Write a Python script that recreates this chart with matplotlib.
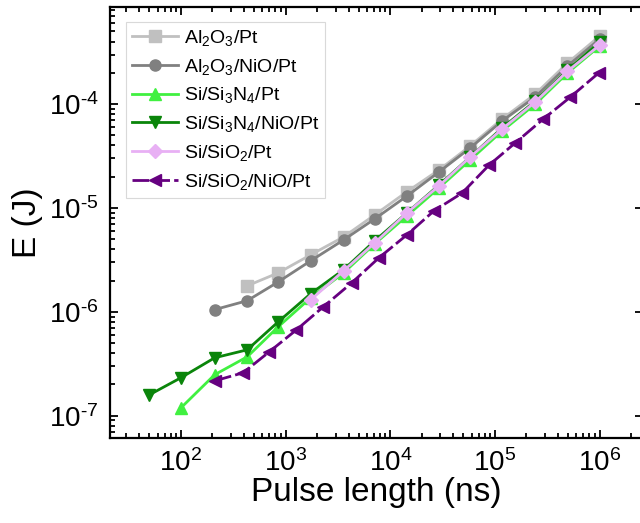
import matplotlib
matplotlib.use("Agg")
import matplotlib.pyplot as plt
from matplotlib.ticker import LogLocator, NullFormatter, FuncFormatter
import numpy as np

plt.rcParams["font.family"] = ["Liberation Sans", "DejaVu Sans"]
plt.rcParams["mathtext.fontset"] = "custom"
plt.rcParams["mathtext.rm"] = "Liberation Sans"
plt.rcParams["mathtext.it"] = "Liberation Sans"
plt.rcParams["mathtext.default"] = "regular"

# ── data (pulse length in ns, energy in J) ──────────────────
x_gray = [210, 430, 850, 1730, 3580, 7100, 14400, 29200, 58000,
          117000, 243000, 493000, 1000000]
x_si = [100] + x_gray
x_si_nio = [50] + x_si
x_sio2 = x_gray[3:]
x_sio2_nio = [212, 393, 698, 1270, 2300, 4280, 7760, 14400, 26100,
              48500, 88100, 156000, 290000, 527000, 980000]

e_al2o3 = [1.78e-6, 2.37e-6, 3.53e-6, 5.26e-6, 8.57e-6, 1.43e-5, 2.32e-5,
           3.95e-5, 7.18e-5, 1.25e-4, 2.48e-4, 4.51e-4]
e_al2o3_nio = [1.05e-6, 1.28e-6, 1.94e-6, 3.09e-6, 4.92e-6, 7.84e-6, 1.30e-5,
               2.22e-5, 3.78e-5, 6.87e-5, 1.17e-4, 2.32e-4, 4.22e-4]
e_si3n4 = [1.19e-7, 2.48e-7, 3.69e-7, 7.18e-7, 1.36e-6, 2.37e-6, 4.51e-6,
           8.38e-6, 1.56e-5, 2.90e-5, 5.50e-5, 1.00e-4, 1.99e-4, 3.61e-4]
e_si3n4_nio = [1.59e-7, 2.32e-7, 3.61e-7, 4.31e-7, 8.01e-7, 1.49e-6, 2.54e-6,
               4.82e-6, 8.95e-6, 1.66e-5, 3.09e-5, 5.88e-5, 1.07e-4, 2.12e-4,
               3.94e-4]
e_sio2 = [1.30e-6, 2.48e-6, 4.61e-6, 8.95e-6, 1.63e-5, 3.09e-5, 5.75e-5,
          1.05e-4, 2.07e-4, 3.69e-4]
e_sio2_nio = [2.17e-7, 2.59e-7, 4.12e-7, 6.71e-7, 1.12e-6, 1.90e-6, 3.30e-6,
              5.50e-6, 9.36e-6, 1.39e-5, 2.59e-5, 4.22e-5, 7.18e-5, 1.17e-4,
              1.99e-4]

series = [
    (x_gray[1:], e_al2o3, r"Al$_2$O$_3$/Pt", "#c0c0c0", "s", "-"),
    (x_gray, e_al2o3_nio, r"Al$_2$O$_3$/NiO/Pt", "#808080", "o", "-"),
    (x_si, e_si3n4, r"Si/Si$_3$N$_4$/Pt", "#40f040", "^", "-"),
    (x_si_nio, e_si3n4_nio, r"Si/Si$_3$N$_4$/NiO/Pt", "#0a850a", "v", "-"),
    (x_sio2, e_sio2, r"Si/SiO$_2$/Pt", "#e8b0f4", "D", "-"),
    (x_sio2_nio, e_sio2_nio, r"Si/SiO$_2$/NiO/Pt", "#660080", "<", (0, (6, 1.5))),
]


def pow10(v, pos):
    # Origin style labels, short hyphen for the minus
    return r"10$^{%s}$" % str(int(round(np.log10(v)))).replace("-", "‑")


fig = plt.figure(figsize=(6.4, 5.23), dpi=100)
ax = fig.add_axes([110 / 640, 85 / 523, 533 / 640, 431 / 523])

for xs, ys, lab, col, mk, ls in series:
    ms = 7 if mk == "D" else 8
    ax.plot(xs, ys, color=col, marker=mk, markersize=ms, linestyle=ls,
            linewidth=2.0, label=lab)

ax.set_xscale("log")
ax.set_yscale("log")
ax.set_xlim(21, 2.6e6)
ax.set_ylim(6.1e-8, 8.6e-4)

ax.xaxis.set_major_locator(LogLocator(base=10, numticks=12))
ax.xaxis.set_minor_locator(LogLocator(base=10, subs=range(2, 10), numticks=12))
ax.yaxis.set_minor_locator(LogLocator(base=10, subs=range(2, 10), numticks=12))
ax.xaxis.set_major_formatter(FuncFormatter(pow10))
ax.yaxis.set_major_formatter(FuncFormatter(pow10))
ax.xaxis.set_minor_formatter(NullFormatter())
ax.yaxis.set_minor_formatter(NullFormatter())

ax.tick_params(which="both", direction="in", top=True, right=True,
               labelsize=20, width=1.3)
ax.tick_params(which="major", length=6, pad=8)
ax.tick_params(which="minor", length=3.5)
ax.tick_params(axis="y", which="minor", right=False)
for sp in ax.spines.values():
    sp.set_linewidth(1.6)

ax.set_xlabel("Pulse length (ns)", fontsize=24, labelpad=0)
ax.set_ylabel("E (J)", fontsize=24, labelpad=4)

leg = ax.legend(loc="upper left", bbox_to_anchor=(0.03, 0.965), fontsize=14,
                frameon=True, fancybox=False, handlelength=2.4,
                handletextpad=0.3, labelspacing=0.45, borderpad=0.3,
                borderaxespad=0)
leg.get_frame().set_edgecolor("#d0d0d0")
leg.get_frame().set_linewidth(0.8)

fig.savefig("out.png", dpi=100)
